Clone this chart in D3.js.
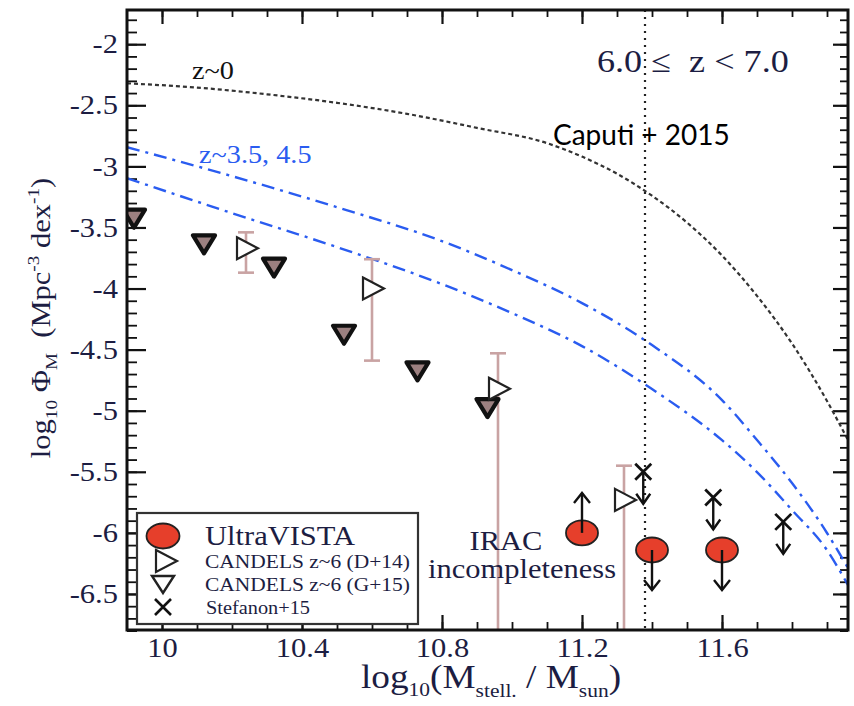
<!DOCTYPE html>
<html>
<head>
<meta charset="utf-8">
<script src="https://cdn.jsdelivr.net/npm/d3@7"></script>
<style>
  body { margin: 0; background: #fff; }
  svg { display: block; }
  text { white-space: pre; }
</style>
</head>
<body>
<svg id="chart" width="854" height="706"></svg>
<script>
// ---- axis ticks ----
const xTickValues = [10, 10.4, 10.8, 11.2, 11.6];
const xTickLabels = ["10", "10.4", "10.8", "11.2", "11.6"];
const yTickValues = [-2, -2.5, -3, -3.5, -4, -4.5, -5, -5.5, -6, -6.5];
const yTickLabels = ["-2", "-2.5", "-3", "-3.5", "-4", "-4.5", "-5", "-5.5", "-6", "-6.5"];

// ---- UltraVISTA (limits) ----
const ultraX = [11.2, 11.4, 11.6];
const ultraY = [-6.0, -6.14, -6.14];
const ultraLimit = ["lower", "upper", "upper"];

// ---- CANDELS z~6 (D+14) with error bars ----
const d14X = [10.24, 10.60, 10.96, 11.32];
const d14Y = [-3.67, -4.00, -4.82, -5.73];
const d14Hi = [-3.54, -3.76, -4.53, -5.45];
const d14Lo = [-3.87, -4.59, -7.5, -7.5];

// ---- CANDELS z~6 (G+15) ----
const g15X = [9.92, 10.12, 10.32, 10.52, 10.73, 10.93];
const g15Y = [-3.42, -3.63, -3.82, -4.37, -4.67, -4.97];

// ---- Stefanon+15 (upper limits) ----
const stefX = [11.375, 11.575, 11.775];
const stefY = [-5.50, -5.71, -5.91];

// ---- reference mass functions ----
const z0X = [9.9, 10.1, 10.3, 10.5, 10.7, 10.9, 11.1, 11.2, 11.3, 11.4, 11.5, 11.6, 11.7, 11.8, 11.9, 11.96];
const z0Y = [-2.32, -2.355, -2.41, -2.48, -2.57, -2.685, -2.81, -2.92, -3.06, -3.24, -3.46, -3.73, -4.06, -4.45, -4.92, -5.24];

const zHiX = [9.9, 10.2, 10.5, 10.8, 11.0, 11.2, 11.4, 11.6, 11.7, 11.8, 11.9, 11.96];
const zHiY = [-2.843, -3.080, -3.334, -3.612, -3.849, -4.119, -4.463, -4.913, -5.240, -5.592, -6.001, -6.288];
const zLoX = [9.9, 10.2, 10.5, 10.8, 11.0, 11.2, 11.4, 11.6, 11.7, 11.8, 11.9, 11.96];
const zLoY = [-3.097, -3.383, -3.661, -3.964, -4.201, -4.471, -4.823, -5.241, -5.502, -5.813, -6.141, -6.427];

const completenessX = 11.38;

const legendLabels = ["UltraVISTA", "CANDELS z~6 (D+14)", "CANDELS z~6 (G+15)", "Stefanon+15"];

// ---- layout ----
const SX = 1.13;              // horizontal stretch applied to all lettering
const serif = "'Liberation Serif', 'Times New Roman', serif";
const inkText = "#1c1d42";
const errColor = "#c9a3a3";
const blue = "#2a5cf0";

const svg = d3.select("#chart");
const L = 127, R = 848, T = 10, B = 630;
const x = d3.scaleLinear().domain([9.9, 11.96]).range([L, R]);
const y = d3.scaleLinear().domain([-1.72, -6.795]).range([T, B]);

svg.append("defs").append("clipPath").attr("id", "plotclip")
  .append("rect").attr("x", L).attr("y", T).attr("width", R - L).attr("height", B - T);

function stretchText(parent, px, py, str, size, opts = {}) {
  const t = parent.append("text")
    .attr("transform", `translate(${px},${py}) scale(${SX},1)`)
    .attr("font-family", opts.family || serif)
    .attr("font-size", size)
    .attr("fill", opts.fill || inkText)
    .attr("text-anchor", opts.anchor || "start");
  if (str !== null) t.text(str);
  return t;
}

// ---- axes: ticks point inward on all four sides ----
const xMinor = d3.range(100, 120).map(d => d / 10);
const yMinor = d3.range(-68, -17).map(d => d / 10);

function styleAxis(g, width) {
  g.attr("font-family", serif);
  g.select(".domain").remove();
  g.selectAll(".tick line").attr("stroke", "#111").attr("stroke-width", width);
}

// minor ticks
svg.append("g").attr("transform", `translate(${L},0)`)
  .call(d3.axisLeft(y).tickValues(yMinor).tickSize(-10).tickFormat(""))
  .call(g => styleAxis(g, 1.8));
svg.append("g").attr("transform", `translate(${R},0)`)
  .call(d3.axisRight(y).tickValues(yMinor).tickSize(-8).tickFormat(""))
  .call(g => styleAxis(g, 1.8));
svg.append("g").attr("transform", `translate(0,${B})`)
  .call(d3.axisBottom(x).tickValues(xMinor).tickSize(-8).tickFormat(""))
  .call(g => styleAxis(g, 1.8));
svg.append("g").attr("transform", `translate(0,${T})`)
  .call(d3.axisTop(x).tickValues(xMinor).tickSize(-7).tickFormat(""))
  .call(g => styleAxis(g, 1.8));

// major ticks with labels
const yAxis = svg.append("g").attr("transform", `translate(${L},0)`)
  .call(d3.axisLeft(y).tickValues(yTickValues).tickSizeInner(-19).tickSizeOuter(0)
        .tickPadding(8).tickFormat((d, i) => yTickLabels[i]))
  .call(g => styleAxis(g, 2.2));
yAxis.selectAll(".tick text")
  .attr("font-family", serif).attr("font-size", 27).attr("fill", inkText)
  .attr("transform", `scale(${SX},1)`);

const xAxis = svg.append("g").attr("transform", `translate(0,${B})`)
  .call(d3.axisBottom(x).tickValues(xTickValues).tickSizeInner(-15).tickSizeOuter(0)
        .tickPadding(8).tickFormat((d, i) => xTickLabels[i]))
  .call(g => styleAxis(g, 2.2));
xAxis.selectAll(".tick text")
  .attr("font-family", serif).attr("font-size", 27).attr("fill", inkText)
  .attr("transform", `scale(${SX},1)`);

svg.append("g").attr("transform", `translate(${R},0)`)
  .call(d3.axisRight(y).tickValues(yTickValues).tickSize(-15).tickFormat(""))
  .call(g => styleAxis(g, 2.2));
svg.append("g").attr("transform", `translate(0,${T})`)
  .call(d3.axisTop(x).tickValues(xTickValues).tickSize(-14).tickFormat(""))
  .call(g => styleAxis(g, 2.2));

// ---- plot contents ----
const plot = svg.append("g").attr("clip-path", "url(#plotclip)");

const line = d3.line().x(d => x(d[0])).y(d => y(d[1])).curve(d3.curveMonotoneX);

plot.append("path").datum(d3.zip(z0X, z0Y)).attr("d", line)
  .attr("fill", "none").attr("stroke", "#333").attr("stroke-width", 2.2)
  .attr("stroke-dasharray", "4,3");
plot.append("path").datum(d3.zip(zHiX, zHiY)).attr("d", line)
  .attr("fill", "none").attr("stroke", blue).attr("stroke-width", 2.4)
  .attr("stroke-dasharray", "13,6,3,6");
plot.append("path").datum(d3.zip(zLoX, zLoY)).attr("d", line)
  .attr("fill", "none").attr("stroke", blue).attr("stroke-width", 2.4)
  .attr("stroke-dasharray", "13,6,3,6");

// completeness limit
plot.append("line")
  .attr("x1", x(completenessX)).attr("x2", x(completenessX))
  .attr("y1", T).attr("y2", B)
  .attr("stroke", "#222").attr("stroke-width", 2.2).attr("stroke-dasharray", "2,5");

// error bars (D+14)
const d14 = d3.range(d14X.length).map(i => ({x: d14X[i], y: d14Y[i], hi: d14Hi[i], lo: d14Lo[i]}));
const eb = plot.append("g").attr("stroke", errColor).attr("stroke-width", 2.6);
d14.forEach(d => {
  eb.append("line").attr("x1", x(d.x)).attr("x2", x(d.x)).attr("y1", y(d.hi)).attr("y2", y(d.lo));
  eb.append("line").attr("x1", x(d.x) - 8).attr("x2", x(d.x) + 8).attr("y1", y(d.hi)).attr("y2", y(d.hi));
  eb.append("line").attr("x1", x(d.x) - 8).attr("x2", x(d.x) + 8).attr("y1", y(d.lo)).attr("y2", y(d.lo));
});

// marker shapes
const downTri = "M-11,-8 L11,-8 L0,10 Z";
const rightTri = "M-9,-11 L12,0 L-9,11 Z";

function arrow(g, cx, cy, len, dir, w) {
  const tipY = cy + dir * len;
  g.append("line").attr("x1", cx).attr("x2", cx).attr("y1", cy).attr("y2", tipY)
    .attr("stroke", "#111").attr("stroke-width", 2.4);
  g.append("path")
    .attr("d", `M${cx - w},${tipY - dir * 10} L${cx},${tipY} L${cx + w},${tipY - dir * 10}`)
    .attr("fill", "none").attr("stroke", "#111").attr("stroke-width", 2.4);
}

// G+15 down triangles
plot.append("g").selectAll("path").data(d3.zip(g15X, g15Y)).join("path")
  .attr("transform", d => `translate(${x(d[0])},${y(d[1])})`)
  .attr("d", downTri)
  .attr("fill", "#9c8080").attr("stroke", "#111").attr("stroke-width", 4.2)
  .attr("stroke-linejoin", "round");

// D+14 right triangles
plot.append("g").selectAll("path").data(d14).join("path")
  .attr("transform", d => `translate(${x(d.x)},${y(d.y)})`)
  .attr("d", rightTri)
  .attr("fill", "#fff").attr("stroke", "#222").attr("stroke-width", 2.2);

// Stefanon+15 crosses with upper-limit arrows
const sg = plot.append("g");
d3.zip(stefX, stefY).forEach(d => {
  const cx = x(d[0]), cy = y(d[1]);
  arrow(sg, cx, cy, 32, 1, 7);
  sg.append("path").attr("d", `M${cx - 8},${cy - 8} L${cx + 8},${cy + 8} M${cx + 8},${cy - 8} L${cx - 8},${cy + 8}`)
    .attr("stroke", "#111").attr("stroke-width", 2.8);
});

// UltraVISTA ellipses with limit arrows
const ug = plot.append("g");
d3.range(ultraX.length).forEach(i => {
  const cx = x(ultraX[i]), cy = y(ultraY[i]);
  ug.append("ellipse").attr("cx", cx).attr("cy", cy).attr("rx", 16).attr("ry", 12.5)
    .attr("fill", "#e63f2b").attr("stroke", "#222").attr("stroke-width", 1.8);
  arrow(ug, cx, cy, 40, ultraLimit[i] === "lower" ? -1 : 1, 8);
});

// ---- annotations ----
stretchText(svg, 192, 79, "z~0", 25, {fill: "#111"});
stretchText(svg, 199, 163, "z~3.5, 4.5", 25, {fill: blue});
stretchText(svg, 597, 72, "6.0 \u2264  z < 7.0", 32);
svg.append("text").attr("x", 553).attr("y", 145)
  .attr("font-family", "Lato, 'Open Sans', sans-serif").attr("font-size", 28)
  .attr("fill", "#000").text("Caputi + 2015");
stretchText(svg, 506, 550, "IRAC", 27, {anchor: "middle"});
stretchText(svg, 522, 578, "incompleteness", 27, {anchor: "middle"});

// ---- legend ----
const lg = svg.append("g");
lg.append("rect").attr("x", 137).attr("y", 513).attr("width", 281).attr("height", 111)
  .attr("fill", "#fff").attr("stroke", "#333").attr("stroke-width", 2.2);
const legY = [536, 561, 584, 607];
lg.append("ellipse").attr("cx", 163).attr("cy", legY[0]).attr("rx", 16.5).attr("ry", 12.5)
  .attr("fill", "#e63f2b").attr("stroke", "#222").attr("stroke-width", 1.8);
lg.append("path").attr("transform", `translate(165,${legY[1]})`).attr("d", rightTri)
  .attr("fill", "#fff").attr("stroke", "#222").attr("stroke-width", 2.2);
lg.append("path").attr("transform", `translate(163,${legY[2]})`).attr("d", "M-11,-8 L11,-8 L0,9 Z")
  .attr("fill", "#fff").attr("stroke", "#222").attr("stroke-width", 2.4);
lg.append("path").attr("d", `M155,${legY[3] - 8} L171,${legY[3] + 8} M171,${legY[3] - 8} L155,${legY[3] + 8}`)
  .attr("stroke", "#111").attr("stroke-width", 2.6);
stretchText(lg, 205, 545, legendLabels[0], 27);
stretchText(lg, 205, 568, legendLabels[1], 19);
stretchText(lg, 205, 591, legendLabels[2], 19);
stretchText(lg, 206, 614, legendLabels[3], 18);

// ---- frame ----
svg.append("rect").attr("x", L).attr("y", T).attr("width", R - L).attr("height", B - T)
  .attr("fill", "none").attr("stroke", "#111").attr("stroke-width", 3);

// ---- axis titles ----
const xt = stretchText(svg, 491, 688, null, 33, {anchor: "middle"});
xt.append("tspan").text("log");
xt.append("tspan").attr("font-size", 19).attr("dy", 8).text("10");
xt.append("tspan").attr("dy", -8).text("(M");
xt.append("tspan").attr("font-size", 19).attr("dy", 9).text("stell.");
xt.append("tspan").attr("dy", -9).text(" / M");
xt.append("tspan").attr("font-size", 19).attr("dy", 9).text("sun");
xt.append("tspan").attr("dy", -9).text(")");

const yt = svg.append("text")
  .attr("transform", `translate(50,318) rotate(-90) scale(${SX},1)`)
  .attr("font-family", serif).attr("font-size", 27).attr("fill", inkText)
  .attr("text-anchor", "middle");
yt.append("tspan").text("log");
yt.append("tspan").attr("font-size", 17).attr("dy", 7).text("10");
yt.append("tspan").attr("dy", -7).text(" \u03A6");
yt.append("tspan").attr("font-size", 17).attr("dy", 7).text("M");
yt.append("tspan").attr("dy", -7).text("  (Mpc");
yt.append("tspan").attr("font-size", 17).attr("dy", -11).text("-3");
yt.append("tspan").attr("dy", 11).text(" dex");
yt.append("tspan").attr("font-size", 17).attr("dy", -11).text("-1");
yt.append("tspan").attr("dy", 11).text(")");
</script>
</body>
</html>
